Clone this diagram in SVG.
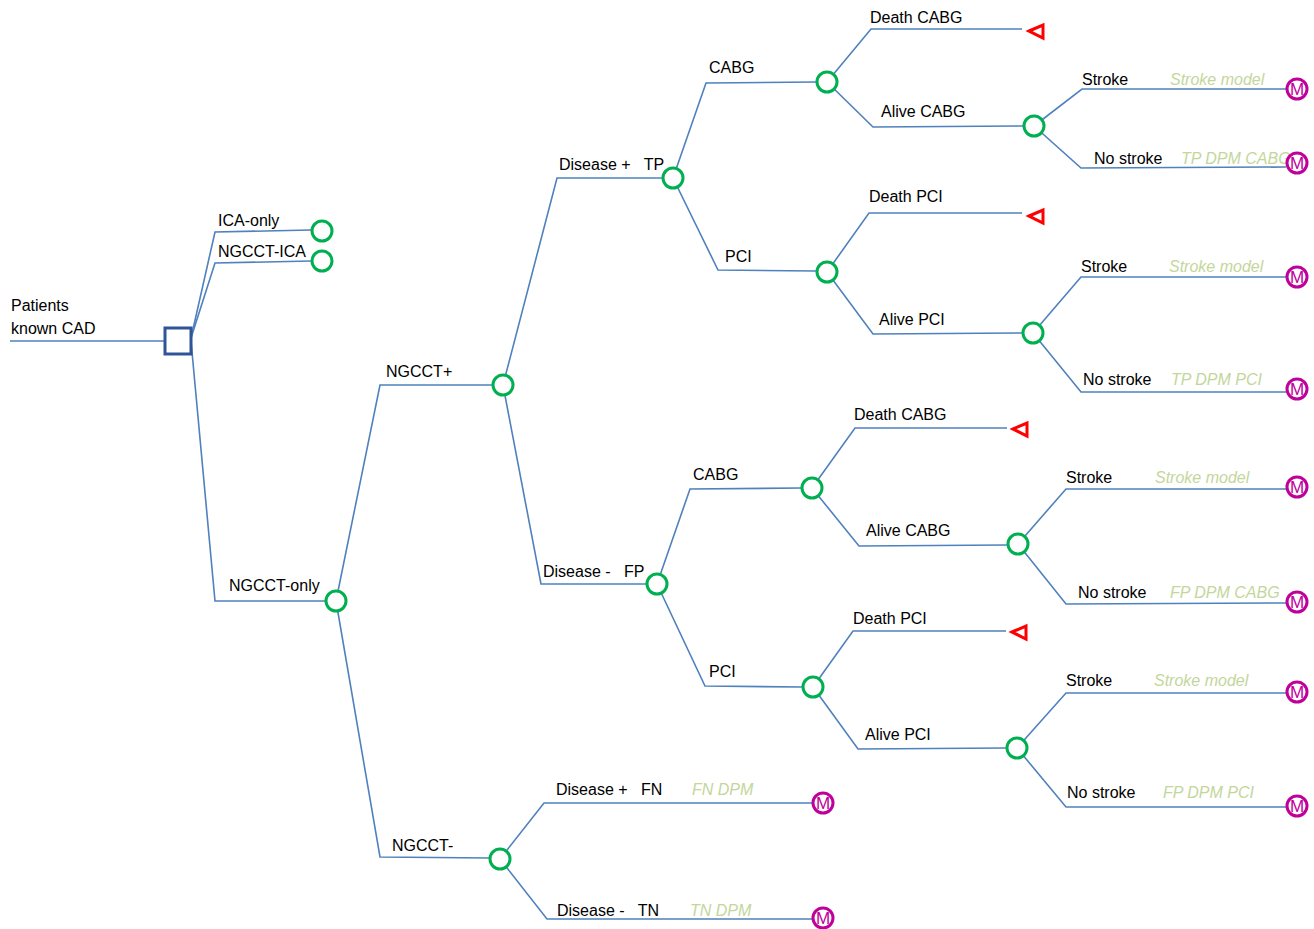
<svg xmlns="http://www.w3.org/2000/svg" width="1314" height="929" viewBox="0 0 1314 929">
<style>
.l{fill:none;stroke:#4F81BD;stroke-width:1.6}
.c{fill:#fff;stroke:#00B050;stroke-width:3}
.m{fill:#fff;stroke:#C0009A;stroke-width:3}
.mt{font-family:"Liberation Sans",Arial,sans-serif;font-size:17px;fill:#C0009A;text-anchor:middle}
.t{fill:none;stroke:#FF0000;stroke-width:3;stroke-linejoin:miter}
text{font-family:"Liberation Sans",Arial,sans-serif;font-size:16px;fill:#000}
.g{font-style:italic;fill:#C3D69B}
</style>
<rect width="1314" height="929" fill="#fff"/>
<g id="connectors">
<polyline class="l" points="10,341 165,341"/>
<polyline class="l" points="191,338 215,232 311,230"/>
<polyline class="l" points="191,338 215,263 311,261"/>
<polyline class="l" points="191,341 215,601 325,601"/>
<polyline class="l" points="336,601 380,385 492,385"/>
<polyline class="l" points="336,601 380,857 489,858"/>
<polyline class="l" points="503,385 557,178 662,178"/>
<polyline class="l" points="503,385 541,584 646,584"/>
<polyline class="l" points="673,178 706,83 816,82"/>
<polyline class="l" points="673,178 718,270 816,271"/>
<polyline class="l" points="827,82 871,29 1022,29"/>
<polyline class="l" points="827,82 873,127 1023,126"/>
<polyline class="l" points="1034,126 1082,89 1286,89"/>
<polyline class="l" points="1034,126 1081,168 1286,167"/>
<polyline class="l" points="827,272 869,213 1022,213"/>
<polyline class="l" points="827,272 873,334 1022,333"/>
<polyline class="l" points="1033,333 1081,277 1286,277"/>
<polyline class="l" points="1033,333 1081,392 1286,392"/>
<polyline class="l" points="657,584 690,489 801,488"/>
<polyline class="l" points="657,584 705,686 802,687"/>
<polyline class="l" points="812,488 855,428 1007,428"/>
<polyline class="l" points="812,488 859,546 1007,545"/>
<polyline class="l" points="1018,544 1066,489 1286,489"/>
<polyline class="l" points="1018,544 1066,604 1286,603"/>
<polyline class="l" points="813,687 853,631 1006,631"/>
<polyline class="l" points="813,687 858,749 1006,748"/>
<polyline class="l" points="1017,748 1066,693 1286,693"/>
<polyline class="l" points="1017,748 1066,807 1286,807"/>
<polyline class="l" points="500,859 544,803 813,803"/>
<polyline class="l" points="500,859 547,919 813,919"/>
</g>
<g id="root">
<rect x="165" y="328" width="26" height="26" fill="#fff" stroke="#2F5597" stroke-width="3"/>
<text x="11" y="311">Patients</text>
<text x="11" y="334">known CAD</text>
</g>
<g id="ica-only"><circle class="c" cx="322" cy="231" r="10"/><text x="218" y="226">ICA-only</text></g>
<g id="ngcct-ica"><circle class="c" cx="322" cy="261" r="10"/><text x="218" y="257">NGCCT-ICA</text></g>
<g id="ngcct-only"><circle class="c" cx="336" cy="601" r="10"/><text x="229" y="591">NGCCT-only</text></g>
<g id="ngcct-plus"><circle class="c" cx="503" cy="385" r="10"/><text x="386" y="377">NGCCT+</text></g>
<g id="ngcct-minus"><circle class="c" cx="500" cy="859" r="10"/><text x="392" y="851">NGCCT-</text></g>
<g id="tp"><circle class="c" cx="673" cy="178" r="10"/><text x="559" y="170" xml:space="preserve">Disease +   TP</text></g>
<g id="fp"><circle class="c" cx="657" cy="584" r="10"/><text x="543" y="577" xml:space="preserve">Disease -   FP</text></g>
<g id="tp-cabg"><circle class="c" cx="827" cy="82" r="10"/><text x="709" y="73">CABG</text></g>
<g id="tp-pci"><circle class="c" cx="827" cy="272" r="10"/><text x="725" y="262">PCI</text></g>
<g id="tp-cabg-death"><polygon class="t" points="1029,31 1043,25 1043,38"/><text x="870" y="23">Death CABG</text></g>
<g id="tp-cabg-alive"><circle class="c" cx="1034" cy="126" r="10"/><text x="881" y="117">Alive CABG</text></g>
<g id="tp-cabg-stroke"><circle class="m" cx="1297" cy="89" r="10"/><text class="mt" x="1297" y="95">M</text><text x="1082" y="85">Stroke</text><text class="g" x="1170" y="85">Stroke model</text></g>
<g id="tp-cabg-nostroke"><text x="1094" y="164">No stroke</text><text class="g" x="1181" y="164">TP DPM CABG</text><circle class="m" cx="1297" cy="163" r="10"/><text class="mt" x="1297" y="169">M</text></g>
<g id="tp-pci-death"><polygon class="t" points="1029,216 1043,210 1043,223"/><text x="869" y="202">Death PCI</text></g>
<g id="tp-pci-alive"><circle class="c" cx="1033" cy="333" r="10"/><text x="879" y="325">Alive PCI</text></g>
<g id="tp-pci-stroke"><circle class="m" cx="1297" cy="277" r="10"/><text class="mt" x="1297" y="283">M</text><text x="1081" y="272">Stroke</text><text class="g" x="1169" y="272">Stroke model</text></g>
<g id="tp-pci-nostroke"><circle class="m" cx="1297" cy="389" r="10"/><text class="mt" x="1297" y="395">M</text><text x="1083" y="385">No stroke</text><text class="g" x="1171" y="385">TP DPM PCI</text></g>
<g id="fp-cabg"><circle class="c" cx="812" cy="488" r="10"/><text x="693" y="480">CABG</text></g>
<g id="fp-pci"><circle class="c" cx="813" cy="687" r="10"/><text x="709" y="677">PCI</text></g>
<g id="fp-cabg-death"><polygon class="t" points="1013,429 1027,423 1027,436"/><text x="854" y="420">Death CABG</text></g>
<g id="fp-cabg-alive"><circle class="c" cx="1018" cy="544" r="10"/><text x="866" y="536">Alive CABG</text></g>
<g id="fp-cabg-stroke"><circle class="m" cx="1297" cy="487" r="10"/><text class="mt" x="1297" y="493">M</text><text x="1066" y="483">Stroke</text><text class="g" x="1155" y="483">Stroke model</text></g>
<g id="fp-cabg-nostroke"><circle class="m" cx="1297" cy="602" r="10"/><text class="mt" x="1297" y="608">M</text><text x="1078" y="598">No stroke</text><text class="g" x="1170" y="598">FP DPM CABG</text></g>
<g id="fp-pci-death"><polygon class="t" points="1012,632 1026,626 1026,639"/><text x="853" y="624">Death PCI</text></g>
<g id="fp-pci-alive"><circle class="c" cx="1017" cy="748" r="10"/><text x="865" y="740">Alive PCI</text></g>
<g id="fp-pci-stroke"><circle class="m" cx="1297" cy="692" r="10"/><text class="mt" x="1297" y="698">M</text><text x="1066" y="686">Stroke</text><text class="g" x="1154" y="686">Stroke model</text></g>
<g id="fp-pci-nostroke"><circle class="m" cx="1297" cy="806" r="10"/><text class="mt" x="1297" y="812">M</text><text x="1067" y="798">No stroke</text><text class="g" x="1163" y="798">FP DPM PCI</text></g>
<g id="fn"><circle class="m" cx="823" cy="803" r="10"/><text class="mt" x="823" y="809">M</text><text x="556" y="795" xml:space="preserve">Disease +   FN</text><text class="g" x="692" y="795">FN DPM</text></g>
<g id="tn"><circle class="m" cx="823" cy="918" r="10"/><text class="mt" x="823" y="924">M</text><text x="557" y="916" xml:space="preserve">Disease -   TN</text><text class="g" x="690" y="916">TN DPM</text></g>
</svg>
